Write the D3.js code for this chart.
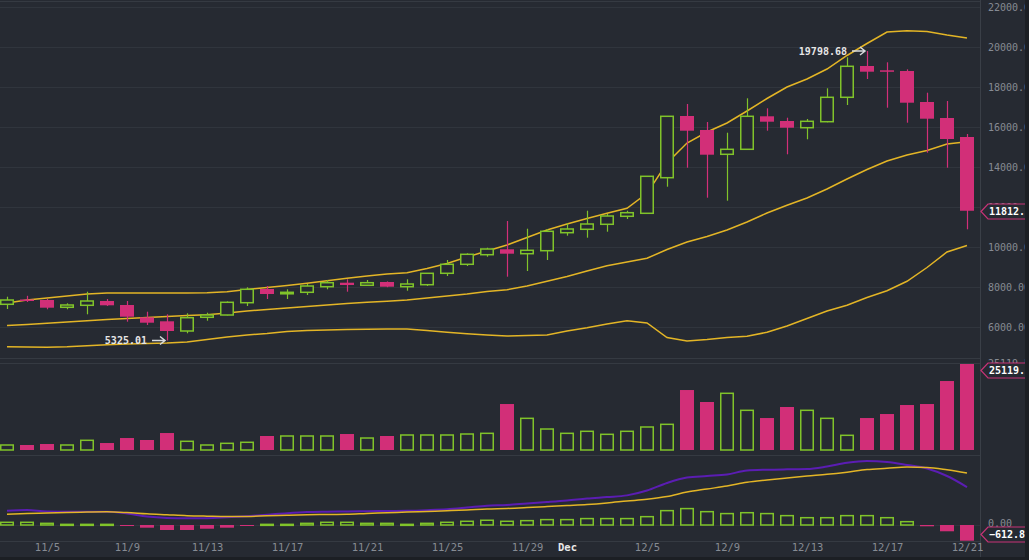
<!DOCTYPE html>
<html lang="en">
<head>
  <meta charset="UTF-8">
  <title>BTC daily candles</title>
  <script src="https://d3js.org/d3.v7.min.js"></script>
  <style>
    html, body { margin: 0; padding: 0; background: #262a32; }
    svg { display: block; }
    .tick text { font-family: "DejaVu Sans Mono", monospace; }
  </style>
</head>
<body>
  <svg id="chart" width="1029" height="560"></svg>
  <script>
    // dates, one candle a day
    const dates = ["11/3","11/4","11/5","11/6","11/7","11/8","11/9","11/10","11/11","11/12",
      "11/13","11/14","11/15","11/16","11/17","11/18","11/19","11/20","11/21","11/22",
      "11/23","11/24","11/25","11/26","11/27","11/28","11/29","11/30","12/1","12/2",
      "12/3","12/4","12/5","12/6","12/7","12/8","12/9","12/10","12/11","12/12",
      "12/13","12/14","12/15","12/16","12/17","12/18","12/19","12/20","12/21"];

    const open  = [7135,7375,7350,6985,7085,7300,7100,6485,6285,5800,6485,6600,7215,7900,7665,7735,8015,8215,8085,8250,
      8015,8115,8685,9135,9615,9885,9665,9815,10715,10885,11135,11535,11685,13465,16550,15850,14635,14885,16535,16300,
      15965,16265,17485,19050,18835,18800,17250,16450,15500];
    const high  = [7515,7560,7400,7185,7765,7400,7300,6765,6635,6685,6715,7280,7985,8050,7885,8150,8350,8385,8350,8280,
      8385,8685,9350,9685,9965,11300,10915,10900,11185,11815,11650,11815,13535,16535,17150,16250,15715,17435,16935,16465,
      16400,17935,19485,19798.68,19235,18885,17715,17300,15650];
    const low   = [6900,7250,6885,6885,6635,7050,6265,6100,5325.01,5685,6315,6580,7050,7400,7400,7600,7885,7765,8050,7990,
      7815,8050,8550,9050,9515,8515,8800,9350,10565,10465,10765,11400,11650,13015,13965,12465,12315,14850,15815,14635,
      15385,16235,17100,18400,16965,16215,14715,13965,10885];
    const close = [7350,7315,6965,7100,7300,7085,6515,6215,5800,6465,6600,7235,7885,7650,7735,8050,8215,8100,8215,8015,
      8150,8685,9135,9635,9900,9665,9835,10785,10900,11150,11550,11715,13535,16535,15815,14615,14885,16535,16265,15965,
      16285,17485,19035,18765,18800,17215,16415,15400,11812.55];

    // bollinger bands
    const bbUpper = [7200,7350,7450,7550,7650,7700,7700,7700,7700,7700,7710,7765,7875,7975,8075,8185,8315,8435,8550,8650,
      8715,8925,9175,9500,9800,10100,10475,10850,11150,11425,11685,11935,12685,14200,15200,15750,16200,16800,17425,18000,
      18400,18900,19575,20175,20750,20815,20775,20600,20450];
    const bbMiddle = [6070,6130,6190,6250,6310,6370,6420,6470,6520,6570,6615,6700,6800,6875,6950,7025,7100,7175,7235,7290,
      7350,7450,7550,7650,7775,7865,8050,8285,8525,8800,9065,9250,9435,9875,10250,10525,10850,11250,11700,12085,
      12450,12900,13400,13875,14300,14600,14825,15150,15265];
    const bbLower = [5010,5000,4990,5015,5065,5110,5150,5175,5200,5250,5375,5500,5600,5675,5775,5825,5850,5880,5890,5900,
      5900,5825,5735,5660,5600,5550,5575,5600,5800,5960,6150,6315,6200,5475,5300,5375,5475,5540,5735,6050,
      6425,6800,7085,7475,7815,8285,8975,9750,10075];

    const volume = [1460,1460,1750,1460,2830,2040,3500,2920,4960,2540,1460,1950,2250,4090,4090,4090,4090,4670,3500,4090,
      4380,4380,4380,4670,4870,13430,9250,6130,4870,5460,4580,5460,6720,7500,17520,14020,16560,11590,9340,12560,
      11590,9250,4290,9340,10510,13140,13430,20150,25119.51];

    // macd panel
    const macdLine = [560,585,525,520,520,520,450,330,275,260,265,300,345,400,460,505,520,530,540,545,
      555,580,615,680,750,780,840,895,955,1030,1090,1155,1345,1640,1850,1910,1970,2125,2155,2170,
      2180,2280,2425,2495,2455,2340,2205,1910,1480];
    const signalLine = [420,450,470,490,505,515,485,435,400,365,345,330,335,360,380,400,410,415,450,475,
      505,530,555,585,625,645,680,720,760,800,860,935,1005,1110,1285,1405,1520,1665,1755,1835,
      1910,1975,2060,2160,2210,2260,2245,2155,2030];
    const histogram = [105,105,65,25,25,25,-40,-105,-195,-195,-145,-105,-25,25,25,65,105,105,65,65,
      25,65,105,145,185,145,170,210,210,250,250,250,325,560,640,520,445,480,445,365,
      285,285,365,365,285,130,-50,-245,-612.8];

    const priceTicks = [6000,8000,10000,12000,14000,16000,18000,20000,22000];
    const dateTicks = ["11/5","11/9","11/13","11/17","11/21","11/25","11/29","12/1","12/5","12/9","12/13","12/17","12/21"];

    const BG = "#262a32", GRID = "#30353d", AXIS_TXT = "#868b93";
    const UP = "#80c32a", DOWN = "#d22f78", BAND = "#e3b526", MACD_C = "#5b1db3";
    const plotRight = 980;

    const svg = d3.select("#chart");
    svg.append("rect").attr("width", 1029).attr("height", 560).attr("fill", BG);

    const x = d3.scalePoint().domain(dates).range([7, 967]);
    const bw = 14;
    const yP = d3.scaleLinear().domain([6000, 22000]).range([327, 7]);
    const yV = d3.scaleLinear().domain([0, 25119.51]).range([450, 364]);
    const yM = d3.scaleLinear().domain([0, 2496]).range([525, 461]);

    // grid lines
    svg.append("g")
      .call(d3.axisLeft(yP).tickValues(priceTicks).tickSize(-plotRight).tickFormat(""))
      .call(g => g.select(".domain").remove())
      .call(g => g.selectAll("line").attr("stroke", GRID));

    // panel separators
    [1, 358, 363, 455, 525, 541].forEach(y => {
      svg.append("line").attr("x1", 0).attr("x2", plotRight).attr("y1", y + 0.5).attr("y2", y + 0.5)
        .attr("stroke", y === 525 ? "#2f343c" : "#353a42");
    });
    svg.append("line").attr("x1", plotRight + 0.5).attr("x2", plotRight + 0.5)
      .attr("y1", 0).attr("y2", 557).attr("stroke", "#3a3f47");

    // price axis labels
    svg.append("g").attr("transform", `translate(${plotRight + 6},0)`)
      .call(d3.axisRight(yP).tickValues(priceTicks).tickSize(0).tickFormat(d3.format(".2f")))
      .call(g => g.select(".domain").remove())
      .call(g => g.selectAll("text").attr("fill", AXIS_TXT).attr("font-size", 10).attr("x", 2));

    const idx = dates.map((d, i) => i);
    const isUp = i => close[i] >= open[i];

    // bollinger lines
    const bandLine = arr => d3.line().x((d, i) => x(dates[i])).y(d => yP(d))(arr);
    [bbUpper, bbMiddle, bbLower].forEach(arr => {
      svg.append("path").attr("d", bandLine(arr)).attr("fill", "none")
        .attr("stroke", BAND).attr("stroke-width", 1.5);
    });

    // candles
    const candles = svg.append("g");
    candles.selectAll("line.wick").data(idx).join("line").attr("class", "wick")
      .attr("x1", i => Math.round(x(dates[i])) + 0.5).attr("x2", i => Math.round(x(dates[i])) + 0.5)
      .attr("y1", i => yP(high[i])).attr("y2", i => yP(low[i]))
      .attr("stroke", i => isUp(i) ? UP : DOWN).attr("stroke-width", 1.2);
    candles.selectAll("rect.body").data(idx).join("rect").attr("class", "body")
      .attr("x", i => x(dates[i]) - bw / 2 + (isUp(i) ? 0.75 : 0))
      .attr("width", i => isUp(i) ? bw - 1.5 : bw)
      .attr("y", i => yP(Math.max(open[i], close[i])))
      .attr("height", i => Math.max(1.5, yP(Math.min(open[i], close[i])) - yP(Math.max(open[i], close[i]))))
      .attr("fill", i => isUp(i) ? BG : DOWN)
      .attr("stroke", i => isUp(i) ? UP : "none").attr("stroke-width", 1.5);

    // volume
    svg.append("g").selectAll("rect").data(idx).join("rect")
      .attr("x", i => x(dates[i]) - bw / 2 + (isUp(i) ? 0.75 : 0))
      .attr("width", i => isUp(i) ? bw - 1.5 : bw)
      .attr("y", i => yV(volume[i]))
      .attr("height", i => yV(0) - yV(volume[i]))
      .attr("fill", i => isUp(i) ? BG : DOWN)
      .attr("stroke", i => isUp(i) ? UP : "none").attr("stroke-width", 1.5);

    // macd histogram
    svg.append("g").selectAll("rect").data(idx).join("rect")
      .attr("x", i => x(dates[i]) - bw / 2 + (histogram[i] >= 0 ? 0.75 : 0))
      .attr("width", i => histogram[i] >= 0 ? bw - 1.5 : bw)
      .attr("y", i => Math.min(yM(histogram[i]), yM(0)))
      .attr("height", i => Math.max(1, Math.abs(yM(histogram[i]) - yM(0))))
      .attr("fill", i => histogram[i] >= 0 ? BG : DOWN)
      .attr("stroke", i => histogram[i] >= 0 ? UP : "none").attr("stroke-width", 1.5);

    const mLine = arr => d3.line().curve(d3.curveMonotoneX).x((d, i) => x(dates[i])).y(d => yM(d))(arr);
    svg.append("path").attr("d", mLine(macdLine)).attr("fill", "none")
      .attr("stroke", MACD_C).attr("stroke-width", 2);
    svg.append("path").attr("d", mLine(signalLine)).attr("fill", "none")
      .attr("stroke", BAND).attr("stroke-width", 1.5);

    // panel labels, partly covered by the value boxes
    const mono = "DejaVu Sans Mono, monospace";
    svg.append("text").attr("x", plotRight + 8).attr("y", 367).text("25119.51")
      .attr("fill", AXIS_TXT).attr("font-size", 10).attr("font-family", mono);
    svg.append("text").attr("x", plotRight + 8).attr("y", 527).text("0.00")
      .attr("fill", AXIS_TXT).attr("font-size", 10).attr("font-family", mono);

    // last value boxes
    function valueBox(cy, label) {
      svg.append("path")
        .attr("d", `M${plotRight + 1},${cy} L${plotRight + 8},${cy - 7.5} H1040 V${cy + 7.5} H${plotRight + 8} Z`)
        .attr("fill", BG).attr("stroke", "#c83377").attr("stroke-width", 1.2);
      svg.append("text").attr("x", plotRight + 9).attr("y", cy + 3.5).text(label)
        .attr("fill", "#ffffff").attr("font-size", 10).attr("font-weight", "bold").attr("font-family", mono);
    }
    valueBox(Math.round(yP(close[48])) + 0.5, d3.format(".2f")(close[48]));
    valueBox(370.5, d3.format(".2f")(volume[48]));
    valueBox(534.5, d3.format(".2f")(histogram[48]));

    // high / low annotations
    function note(i, val) {
      const cx = x(dates[i]), cy = yP(val);
      const g = svg.append("g");
      g.append("text").attr("x", cx - 20).attr("y", cy + 3.5).attr("text-anchor", "end")
        .text(d3.format(".2f")(val)).attr("fill", "#e6e6e6").attr("font-size", 10)
        .attr("font-weight", "bold").attr("font-family", mono);
      g.append("path").attr("d", `M${cx - 15},${cy} H${cx - 2} M${cx - 7},${cy - 4} L${cx - 2},${cy} L${cx - 7},${cy + 4}`)
        .attr("fill", "none").attr("stroke", "#d8dadd").attr("stroke-width", 1.5);
    }
    note(43, high[43]);
    note(8, low[8]);

    // date axis
    const xAxis = svg.append("g").attr("transform", "translate(0,541)")
      .call(d3.axisBottom(x).tickValues(dateTicks).tickSize(0)
        .tickFormat(d => d === "12/1" ? "Dec" : d))
      .call(g => g.select(".domain").remove());
    xAxis.selectAll("text").attr("y", 3).attr("font-size", 10.5)
      .attr("font-family", "DejaVu Sans, sans-serif")
      .attr("fill", d => d === "12/1" ? "#e8e8e8" : AXIS_TXT)
      .attr("font-weight", d => d === "12/1" ? "bold" : "normal");

    // edges
    svg.append("rect").attr("x", 0).attr("y", 557).attr("width", 1029).attr("height", 3).attr("fill", "#1c1f24");
    svg.append("rect").attr("x", 1025).attr("y", 0).attr("width", 4).attr("height", 560).attr("fill", "#1c1f24");
  </script>
</body>
</html>
